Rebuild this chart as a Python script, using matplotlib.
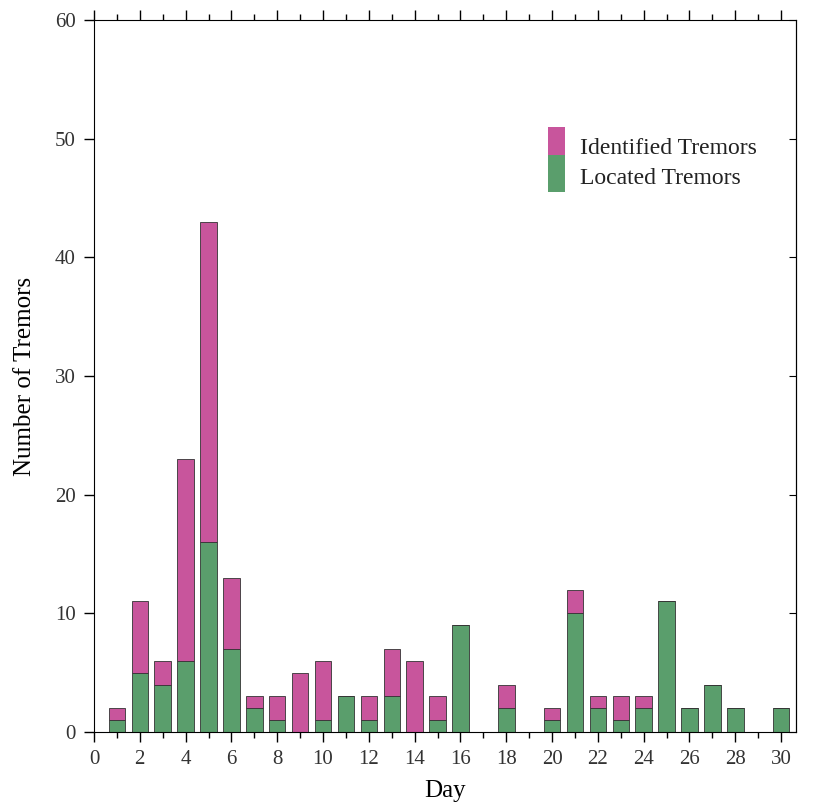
import numpy as np
import matplotlib
matplotlib.use("Agg")
import matplotlib.pyplot as plt
from matplotlib.patches import Rectangle

plt.rcParams['font.family'] = ['Liberation Serif', 'DejaVu Serif']

# tremor counts per day
days = list(range(1, 31))
located = [1, 5, 4, 6, 16, 7, 2, 1, 0, 1, 3, 1, 3, 0, 1, 9, 0, 2, 0, 1,
           10, 2, 1, 2, 11, 2, 4, 2, 0, 2]
identified = [2, 11, 6, 23, 43, 13, 3, 3, 5, 6, 3, 3, 7, 6, 3, 9, 0, 4, 0, 2,
              12, 3, 3, 3, 11, 2, 4, 2, 0, 2]

magenta = '#c8559c'
green = '#5a9e6c'

fig = plt.figure(figsize=(8.13, 8.10), dpi=100)
ax = fig.add_axes([94/813, 78/810, 702/813, 712/810])

located = np.array(located)
identified = np.array(identified)
extra = identified - located

ax.bar(days, located, width=0.72, color=green, edgecolor='#333333', linewidth=0.6)
ax.bar(days, extra, bottom=located, width=0.72, color=magenta,
       edgecolor='#333333', linewidth=0.6)

ax.set_xlim(0, 30.65)
ax.set_ylim(0, 60)
ax.set_xticks(range(0, 31, 2))
ax.set_xticks(range(0, 31), minor=True)
ax.set_yticks(range(0, 61, 10))
ax.tick_params(axis='both', labelsize=15, direction='out', length=7, width=1, pad=6)
ax.tick_params(axis='x', which='minor', length=4, width=1)
ax.tick_params(axis='x', which='both', top=True)
for lab in ax.get_yticklabels() + ax.get_xticklabels():
    lab.set_color('#333333')

# right side has small inward ticks
right = ax.secondary_yaxis('right')
right.set_yticks(range(0, 61, 10))
right.tick_params(direction='in', length=5, labelright=False)

ax.set_xlabel('Day', fontsize=18, labelpad=8)
ax.set_ylabel('Number of Tremors', fontsize=18, labelpad=14)

# legend: stacked swatch with two labels
ax.add_patch(Rectangle((0.647, 0.810), 0.024, 0.040, transform=ax.transAxes,
                       facecolor=magenta, edgecolor='none'))
ax.add_patch(Rectangle((0.647, 0.758), 0.024, 0.052, transform=ax.transAxes,
                       facecolor=green, edgecolor='none'))
ax.text(0.692, 0.820, 'Identified Tremors', transform=ax.transAxes,
        fontsize=17, va='center', color='#222222')
ax.text(0.692, 0.778, 'Located Tremors', transform=ax.transAxes,
        fontsize=17, va='center', color='#222222')

fig.savefig('out.png', dpi=100)
